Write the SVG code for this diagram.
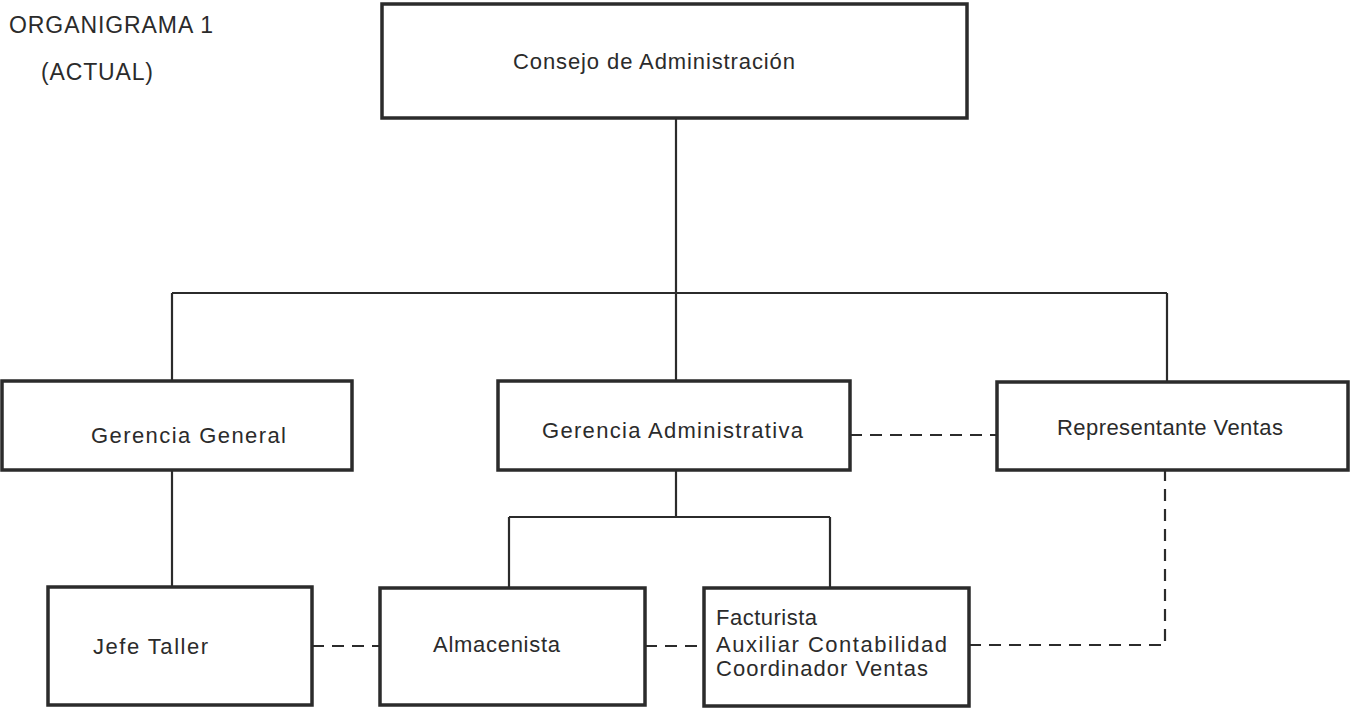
<svg xmlns="http://www.w3.org/2000/svg" width="1350" height="710" viewBox="0 0 1350 710">
<style>
.box{fill:#fff;stroke:#2b2b2b;stroke-width:3.5}
.ln{fill:none;stroke:#2b2b2b;stroke-width:2.2}
.dash{fill:none;stroke:#2b2b2b;stroke-width:2.2;stroke-dasharray:12 8}
.t{font-family:"Liberation Sans",Arial,sans-serif;font-size:22px;fill:#2b2b2b}
.h{font-family:"Liberation Sans",Arial,sans-serif;font-size:23px;fill:#2b2b2b}
</style>
<rect width="1350" height="710" fill="#fff"/>
<g id="title">
<text class="h" x="9" y="33" textLength="204" lengthAdjust="spacing">ORGANIGRAMA 1</text>
<text class="h" x="41" y="80" textLength="112" lengthAdjust="spacing">(ACTUAL)</text>
</g>
<g id="connectors">
<path class="ln" d="M676 118 V381 M172 293 H1167 M172 293 V381 M1167 293 V382"/>
<path class="ln" d="M172 470 V587"/>
<path class="ln" d="M676 470 V517 M509 517 H830 M509 517 V588 M830 517 V588"/>
<path class="dash" d="M850 435 H997"/>
<path class="dash" d="M312 646 H380"/>
<path class="dash" d="M645 646 H704"/>
<path class="dash" d="M969 645 H1165 V470"/>
</g>
<g id="consejo">
<rect class="box" x="382" y="4" width="585" height="114"/>
<text class="t" x="513" y="69" textLength="282" lengthAdjust="spacing">Consejo de Administración</text>
</g>
<g id="gerencia-general">
<rect class="box" x="2" y="381" width="350" height="89"/>
<text class="t" x="91" y="443" textLength="195" lengthAdjust="spacing">Gerencia General</text>
</g>
<g id="gerencia-administrativa">
<rect class="box" x="498" y="381" width="352" height="89"/>
<text class="t" x="542" y="438" textLength="261" lengthAdjust="spacing">Gerencia Administrativa</text>
</g>
<g id="representante-ventas">
<rect class="box" x="997" y="382" width="351" height="88"/>
<text class="t" x="1057" y="435" textLength="226" lengthAdjust="spacing">Representante Ventas</text>
</g>
<g id="jefe-taller">
<rect class="box" x="48" y="587" width="264" height="118"/>
<text class="t" x="93" y="654" textLength="115" lengthAdjust="spacing">Jefe Taller</text>
</g>
<g id="almacenista">
<rect class="box" x="380" y="588" width="265" height="117"/>
<text class="t" x="433" y="652" textLength="127" lengthAdjust="spacing">Almacenista</text>
</g>
<g id="facturista">
<rect class="box" x="704" y="588" width="265" height="118"/>
<text class="t" x="716" y="625" textLength="101" lengthAdjust="spacing">Facturista</text>
<text class="t" x="716" y="652" textLength="231" lengthAdjust="spacing">Auxiliar Contabilidad</text>
<text class="t" x="716" y="676" textLength="212" lengthAdjust="spacing">Coordinador Ventas</text>
</g>
</svg>
